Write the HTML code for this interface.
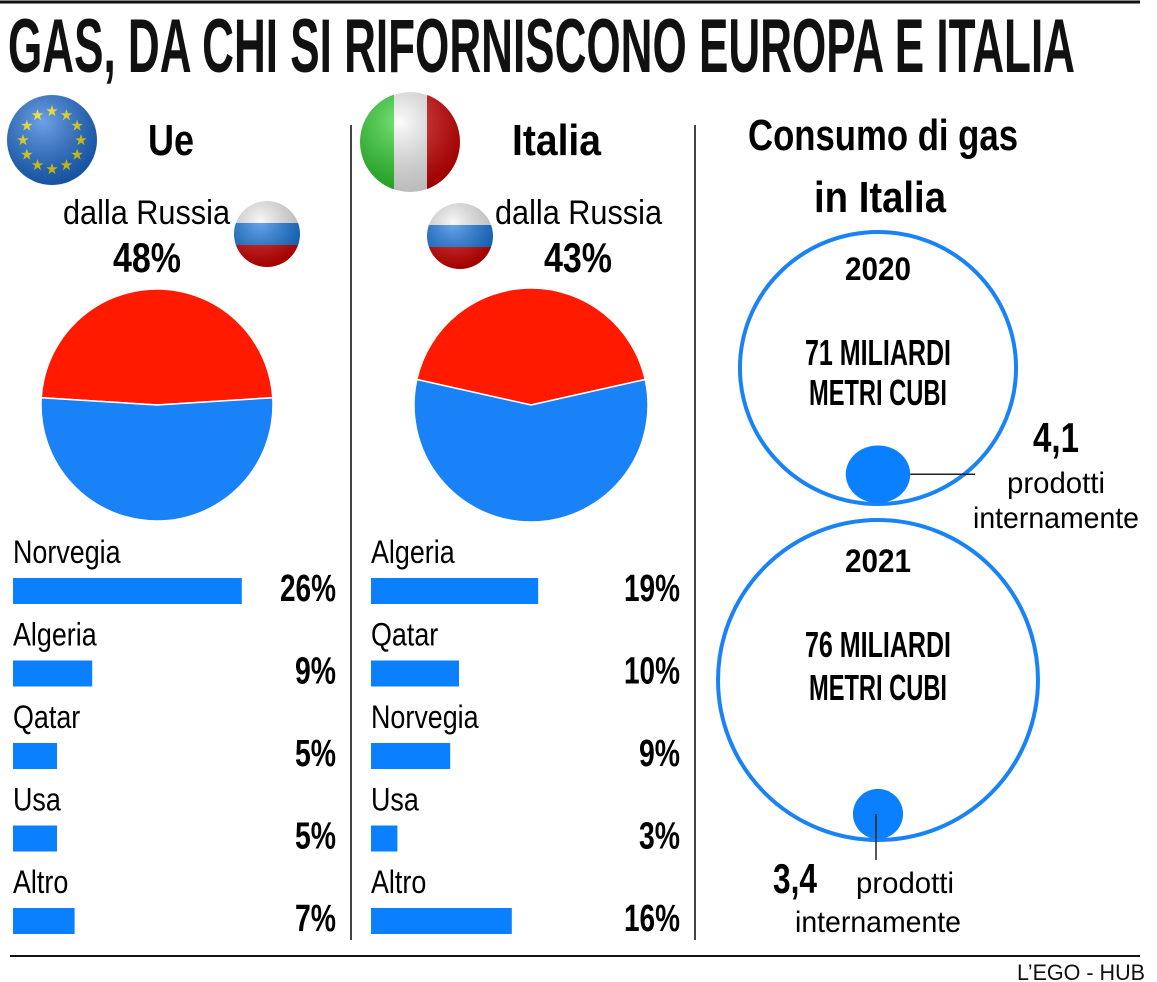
<!DOCTYPE html>
<html><head><meta charset="utf-8"><style>
html,body{margin:0;padding:0;background:#fff;}
svg{display:block;font-family:"Liberation Sans Narrow","Liberation Sans",sans-serif;}
</style></head><body>
<svg id="chart" width="1157" height="982" viewBox="0 0 1157 982" xmlns="http://www.w3.org/2000/svg">
<defs>
<radialGradient id="gloss" cx="0.4" cy="0.3" r="0.7"><stop offset="0" stop-color="#fff" stop-opacity="0.35"/><stop offset="1" stop-color="#000" stop-opacity="0.25"/></radialGradient>
<clipPath id="cIT"><circle cx="410" cy="142" r="50"/></clipPath>
<clipPath id="cR1"><circle cx="267" cy="234" r="33"/></clipPath>
<clipPath id="cR2"><circle cx="460" cy="236" r="33"/></clipPath>
</defs>
<line x1="0" y1="2" x2="1140" y2="2" stroke="#111" stroke-width="3"/>
<text x="8" y="72" font-size="76" font-weight="bold" textLength="1067" lengthAdjust="spacingAndGlyphs" fill="#111">GAS, DA CHI SI RIFORNISCONO EUROPA E ITALIA</text>

<g>
<circle cx="52" cy="140" r="45" fill="#1f6fd8"/>
<g id="stars" fill="#f5e400" font-size="15" text-anchor="middle"></g>
<circle cx="52" cy="140" r="45" fill="url(#gloss)"/>
</g>
<text x="148" y="155" font-size="44" font-weight="bold" textLength="46" lengthAdjust="spacingAndGlyphs">Ue</text>
<g clip-path="url(#cIT)">
<rect x="360" y="92" width="34" height="100" fill="#2fd42f"/><rect x="394" y="92" width="33" height="100" fill="#fafafa"/><rect x="427" y="92" width="34" height="100" fill="#d40000"/>
<circle cx="410" cy="142" r="50" fill="url(#gloss)"/>
</g>
<text x="512" y="155" font-size="44" font-weight="bold" textLength="89" lengthAdjust="spacingAndGlyphs">Italia</text>

<g clip-path="url(#cR1)">
<rect x="234" y="201" width="66" height="22" fill="#f4f4f4"/><rect x="234" y="223" width="66" height="22" fill="#1a7be6"/><rect x="234" y="245" width="66" height="22" fill="#d90000"/>
<circle cx="267" cy="234" r="33" fill="url(#gloss)"/></g>
<g clip-path="url(#cR2)">
<rect x="427" y="203" width="66" height="22" fill="#f4f4f4"/><rect x="427" y="225" width="66" height="22" fill="#1a7be6"/><rect x="427" y="247" width="66" height="22" fill="#d90000"/>
<circle cx="460" cy="236" r="33" fill="url(#gloss)"/></g>

<text x="63" y="224" font-size="34" textLength="167" lengthAdjust="spacingAndGlyphs">dalla Russia</text>
<text x="495" y="224" font-size="34" textLength="167" lengthAdjust="spacingAndGlyphs">dalla Russia</text>
<text id="ueRusPct" x="147" y="272" font-size="42" font-weight="bold" text-anchor="middle" textLength="68" lengthAdjust="spacingAndGlyphs"></text>
<text id="itRusPct" x="578" y="272" font-size="42" font-weight="bold" text-anchor="middle" textLength="68" lengthAdjust="spacingAndGlyphs"></text>

<line x1="351" y1="125" x2="351" y2="940" stroke="#444" stroke-width="2"/>
<line x1="695" y1="125" x2="695" y2="940" stroke="#444" stroke-width="2"/>

<g id="pies"></g>
<g id="bars"></g>

<text x="883" y="150" font-size="44" font-weight="bold" text-anchor="middle" textLength="270" lengthAdjust="spacingAndGlyphs">Consumo di gas</text>
<text x="880" y="212" font-size="44" font-weight="bold" text-anchor="middle" textLength="132" lengthAdjust="spacingAndGlyphs">in Italia</text>

<g id="consumo"></g>

<line x1="10" y1="956" x2="1140" y2="956" stroke="#111" stroke-width="2"/>
<text x="1145" y="980" font-size="22" text-anchor="end" fill="#111" textLength="128" lengthAdjust="spacingAndGlyphs">L’EGO - HUB</text>
</svg>
<script>
const ueRussia = 48;
const itRussia = 43;
const ueCountries = ["Norvegia","Algeria","Qatar","Usa","Altro"];
const ueValues = [26,9,5,5,7];
const itCountries = ["Algeria","Qatar","Norvegia","Usa","Altro"];
const itValues = [19,10,9,3,16];
const years = ["2020","2021"];
const consumption = [71,76];
const domestic = ["4,1","3,4"];
const domesticValues = [4.1,3.4];

const NS="http://www.w3.org/2000/svg";
function mk(tag,attrs,parent){const e=document.createElementNS(NS,tag);for(const k in attrs)e.setAttribute(k,attrs[k]);parent.appendChild(e);return e;}
document.getElementById('ueRusPct').textContent=ueRussia+'%';
document.getElementById('itRusPct').textContent=itRussia+'%';

const stars=document.getElementById('stars');
for(let i=0;i<12;i++){const a=i*Math.PI/6;
  const s=mk('text',{x:52+29*Math.sin(a),y:140-29*Math.cos(a)+5},stars);s.textContent='★';
  
  }

const pies=document.getElementById('pies');
function pie(cx,cy,r,pct,name){
  const half=pct/100*Math.PI;
  const a1=-Math.PI/2-half, a2=-Math.PI/2+half;
  const p=(a)=>[cx+r*Math.cos(a),cy+r*Math.sin(a)];
  const [x1,y1]=p(a1),[x2,y2]=p(a2);
  const large=pct>50?1:0;
  const red=mk('path',{d:`M${cx},${cy}L${x1},${y1}A${r},${r} 0 ${large} 1 ${x2},${y2}Z`,fill:'#ff1a00',stroke:'#fff','stroke-width':1.5},pies);
  
  
  const blue=mk('path',{d:`M${cx},${cy}L${x2},${y2}A${r},${r} 0 ${1-large} 1 ${x1},${y1}Z`,fill:'#1a82f7',stroke:'#fff','stroke-width':1.5},pies);
  
  
}
pie(157,405,116,ueRussia,'ue');
pie(531,405,117,itRussia,'italia');

const bars=document.getElementById('bars');
const pxPer=8.8;
function barList(x0,valX,cats,vals,name){
  cats.forEach((c,i)=>{const y=563+i*82.5;
    const t=mk('text',{x:x0,y:y,'font-size':32},bars);t.textContent=c;
    
    
    const w=t.getComputedTextLength();
    if(w>0){t.setAttribute('textLength',w*0.84);t.setAttribute('lengthAdjust','spacingAndGlyphs');}
    const b=mk('rect',{x:x0,y:y+15,width:vals[i]*pxPer,height:26,fill:'#0a80ff'},bars);
    
    
    const v=mk('text',{x:valX,y:y+38,'font-size':38,'font-weight':'bold','text-anchor':'end',textLength:String(vals[i]).length*15+26,lengthAdjust:'spacingAndGlyphs'},bars);v.textContent=vals[i]+'%';
    
    
  });
}
barList(13,336,ueCountries,ueValues,'ue');
barList(371,680,itCountries,itValues,'italia');

const cg=document.getElementById('consumo');
const specs=[{cx:878,cy:368,k:16.14,asp:1.015,sk:0.88,srx:1.12,yy:280,l1:365,l2:405},{cx:878,cy:680,k:18.35,asp:1.0,sk:0.74,srx:1.0,yy:572,l1:657,l2:700}];
years.forEach((yr,i)=>{const s=specs[i];
  const R=s.k*Math.sqrt(consumption[i]);
  const bigC=mk('ellipse',{cx:s.cx,cy:s.cy,rx:R*s.asp,ry:R,fill:'none',stroke:'#1a82f7','stroke-width':4},cg);
  
  
  const r=R*Math.sqrt(domesticValues[i]/consumption[i])*s.sk;
  const scy=s.cy+R-r-1;
  const sc=mk('ellipse',{cx:s.cx,cy:scy,rx:r*s.srx,ry:r,fill:'#0a80ff'},cg);
  
  
  const t1=mk('text',{x:s.cx,y:s.yy,'font-size':32,'font-weight':'bold','text-anchor':'middle',textLength:66,lengthAdjust:'spacingAndGlyphs'},cg);t1.textContent=yr;
  
  
  const t2=mk('text',{x:s.cx,y:s.l1,'font-size':36,'font-weight':'bold','text-anchor':'middle',textLength:146,lengthAdjust:'spacingAndGlyphs'},cg);t2.textContent=consumption[i]+' MILIARDI';
  
  
  const t3=mk('text',{x:s.cx,y:s.l2,'font-size':36,'font-weight':'bold','text-anchor':'middle',textLength:138,lengthAdjust:'spacingAndGlyphs'},cg);t3.textContent='METRI CUBI';
  
  
  if(i===0){
    mk('line',{x1:s.cx+r*s.srx,y1:scy,x2:975,y2:scy,stroke:'#222','stroke-width':1.5},cg);
    const a=mk('text',{x:1056,y:452,'font-size':42,'font-weight':'bold','text-anchor':'middle',textLength:46,lengthAdjust:'spacingAndGlyphs'},cg);a.textContent=domestic[i];
    
    
    const b=mk('text',{x:1056,y:493,'font-size':30,'text-anchor':'middle',textLength:98,lengthAdjust:'spacingAndGlyphs'},cg);b.textContent='prodotti';
    
    
    const c=mk('text',{x:1056,y:528,'font-size':30,'text-anchor':'middle',textLength:166,lengthAdjust:'spacingAndGlyphs'},cg);c.textContent='internamente';
    
    
  } else {
    mk('line',{x1:s.cx-2,y1:scy,x2:s.cx-2,y2:860,stroke:'#222','stroke-width':1.5},cg);
    const a=mk('text',{x:773,y:893,'font-size':42,'font-weight':'bold',textLength:44,lengthAdjust:'spacingAndGlyphs'},cg);a.textContent=domestic[i];
    
    
    const b=mk('text',{x:856,y:893,'font-size':30,textLength:98,lengthAdjust:'spacingAndGlyphs'},cg);b.textContent='prodotti';
    
    
    const c=mk('text',{x:878,y:932,'font-size':30,'text-anchor':'middle',textLength:166,lengthAdjust:'spacingAndGlyphs'},cg);c.textContent='internamente';
    
    
  }
});
</script>
</body></html>
